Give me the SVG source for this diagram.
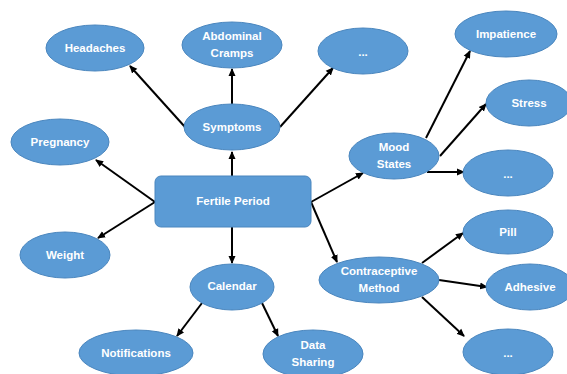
<svg xmlns="http://www.w3.org/2000/svg" width="567" height="374" viewBox="0 0 567 374">
<style>
.n{fill:#5B9BD5;stroke:#4A86BE;stroke-width:1}
.t{fill:#fff;font-family:"Liberation Sans",Arial,sans-serif;font-weight:bold;font-size:11.5px;text-anchor:middle;dominant-baseline:central}
.c{stroke:#000;stroke-width:2;fill:none;marker-end:url(#ah)}
</style>
<defs>
<marker id="ah" markerWidth="8" markerHeight="8" refX="7" refY="4" orient="auto" markerUnits="userSpaceOnUse">
<path d="M0,0.5 L8,4 L0,7.5 Z" fill="#000"/>
</marker>
</defs>
<g id="connectors">
<line class="c" x1="232" y1="176" x2="232" y2="152"/>
<line class="c" x1="185" y1="127" x2="130" y2="66"/>
<line class="c" x1="232" y1="104" x2="232" y2="69"/>
<line class="c" x1="280" y1="127" x2="333" y2="68"/>
<line class="c" x1="155" y1="202" x2="96" y2="160"/>
<line class="c" x1="155" y1="202" x2="98" y2="238"/>
<line class="c" x1="232" y1="227" x2="232" y2="263"/>
<line class="c" x1="202" y1="303" x2="177" y2="336"/>
<line class="c" x1="262" y1="303" x2="278" y2="336"/>
<line class="c" x1="311" y1="202" x2="363" y2="173"/>
<line class="c" x1="311" y1="202" x2="337" y2="262"/>
<line class="c" x1="426" y1="138" x2="470" y2="51"/>
<line class="c" x1="440" y1="156" x2="486" y2="104"/>
<line class="c" x1="427" y1="172" x2="464" y2="172"/>
<line class="c" x1="422" y1="263" x2="463" y2="233"/>
<line class="c" x1="439" y1="280" x2="487" y2="287"/>
<line class="c" x1="422" y1="297" x2="464" y2="336"/>
</g>
<g id="fertile"><rect class="n" x="155" y="176" width="156" height="51" rx="6"/><text class="t" x="233" y="201">Fertile Period</text></g>
<g id="symptoms"><ellipse class="n" cx="232" cy="127" rx="48" ry="23"/><text class="t" x="232" y="127">Symptoms</text></g>
<g id="headaches"><ellipse class="n" cx="95" cy="48" rx="49" ry="23"/><text class="t" x="95" y="48">Headaches</text></g>
<g id="abdominal"><ellipse class="n" cx="232" cy="45" rx="50" ry="23"/><text class="t" x="232" y="36">Abdominal</text><text class="t" x="232" y="53">Cramps</text></g>
<g id="sym-more"><ellipse class="n" cx="363" cy="51" rx="45" ry="23"/><text class="t" x="363" y="52">...</text></g>
<g id="pregnancy"><ellipse class="n" cx="60" cy="142" rx="49" ry="23"/><text class="t" x="60" y="142">Pregnancy</text></g>
<g id="weight"><ellipse class="n" cx="65" cy="255" rx="45" ry="23"/><text class="t" x="65" y="255">Weight</text></g>
<g id="calendar"><ellipse class="n" cx="232" cy="287" rx="42" ry="23"/><text class="t" x="232" y="286">Calendar</text></g>
<g id="notifications"><ellipse class="n" cx="136" cy="353" rx="57" ry="23"/><text class="t" x="136" y="353">Notifications</text></g>
<g id="datasharing"><ellipse class="n" cx="313" cy="354" rx="50" ry="24"/><text class="t" x="313" y="345">Data</text><text class="t" x="313" y="362">Sharing</text></g>
<g id="mood"><ellipse class="n" cx="394" cy="156" rx="45" ry="23"/><text class="t" x="394" y="147">Mood</text><text class="t" x="394" y="164">States</text></g>
<g id="impatience"><ellipse class="n" cx="506" cy="34" rx="51" ry="23"/><text class="t" x="506" y="34">Impatience</text></g>
<g id="stress"><ellipse class="n" cx="529" cy="103" rx="43" ry="23"/><text class="t" x="529" y="103">Stress</text></g>
<g id="mood-more"><ellipse class="n" cx="508" cy="173" rx="45" ry="23"/><text class="t" x="508" y="174">...</text></g>
<g id="contraceptive"><ellipse class="n" cx="379" cy="280" rx="60" ry="23"/><text class="t" x="379" y="271">Contraceptive</text><text class="t" x="379" y="288">Method</text></g>
<g id="pill"><ellipse class="n" cx="508" cy="232" rx="45" ry="22"/><text class="t" x="508" y="232">Pill</text></g>
<g id="adhesive"><ellipse class="n" cx="530" cy="287" rx="44" ry="23"/><text class="t" x="530" y="287">Adhesive</text></g>
<g id="contra-more"><ellipse class="n" cx="508" cy="352" rx="45" ry="23"/><text class="t" x="508" y="353">...</text></g>
</svg>
